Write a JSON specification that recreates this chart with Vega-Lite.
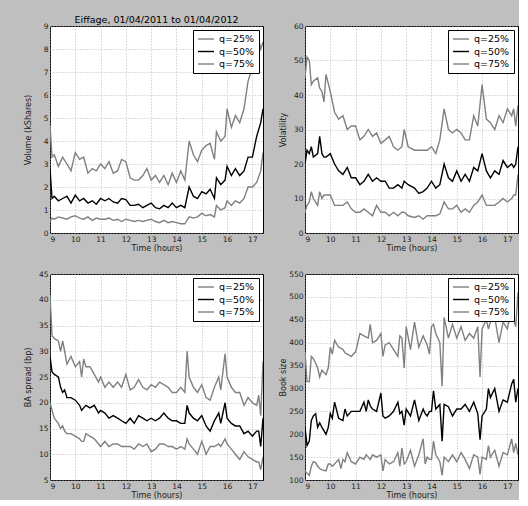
{
  "$schema": "https://vega.github.io/schema/vega-lite/v6.json",
  "background": "#bfbfbf",
  "padding": {"left": 23, "top": 14, "right": 0, "bottom": 0},
  "datasets": {
    "vol": [
      {"t":9,"q=25%":0.5,"q=50%":2.8,"q=75%":4.7},
      {"t":9.08,"q=25%":0.65,"q=50%":1.5,"q=75%":3.3},
      {"t":9.17,"q=25%":0.6,"q=50%":1.6,"q=75%":3.4},
      {"t":9.33,"q=25%":0.7,"q=50%":1.4,"q=75%":2.9},
      {"t":9.5,"q=25%":0.65,"q=50%":1.5,"q=75%":3.3},
      {"t":9.67,"q=25%":0.6,"q=50%":1.6,"q=75%":3.0},
      {"t":9.83,"q=25%":0.7,"q=50%":1.3,"q=75%":2.7},
      {"t":10,"q=25%":0.75,"q=50%":1.65,"q=75%":3.5},
      {"t":10.17,"q=25%":0.65,"q=50%":1.4,"q=75%":3.2},
      {"t":10.33,"q=25%":0.6,"q=50%":1.5,"q=75%":3.3},
      {"t":10.5,"q=25%":0.7,"q=50%":1.3,"q=75%":2.6},
      {"t":10.67,"q=25%":0.55,"q=50%":1.4,"q=75%":2.8},
      {"t":10.83,"q=25%":0.65,"q=50%":1.25,"q=75%":2.7},
      {"t":11,"q=25%":0.6,"q=50%":1.5,"q=75%":3.0},
      {"t":11.17,"q=25%":0.6,"q=50%":1.4,"q=75%":2.8},
      {"t":11.33,"q=25%":0.65,"q=50%":1.5,"q=75%":3.1},
      {"t":11.5,"q=25%":0.55,"q=50%":1.35,"q=75%":2.6},
      {"t":11.67,"q=25%":0.6,"q=50%":1.3,"q=75%":2.7},
      {"t":11.83,"q=25%":0.5,"q=50%":1.5,"q=75%":3.2},
      {"t":12,"q=25%":0.6,"q=50%":1.45,"q=75%":3.1},
      {"t":12.17,"q=25%":0.55,"q=50%":1.2,"q=75%":2.4},
      {"t":12.33,"q=25%":0.5,"q=50%":1.2,"q=75%":2.3},
      {"t":12.5,"q=25%":0.55,"q=50%":1.25,"q=75%":2.3},
      {"t":12.67,"q=25%":0.5,"q=50%":1.1,"q=75%":2.5},
      {"t":12.83,"q=25%":0.55,"q=50%":1.2,"q=75%":2.8},
      {"t":13,"q=25%":0.6,"q=50%":1.3,"q=75%":2.3},
      {"t":13.17,"q=25%":0.5,"q=50%":1.1,"q=75%":2.5},
      {"t":13.33,"q=25%":0.45,"q=50%":1.05,"q=75%":2.2},
      {"t":13.5,"q=25%":0.55,"q=50%":1.2,"q=75%":2.5},
      {"t":13.67,"q=25%":0.45,"q=50%":1.1,"q=75%":2.1},
      {"t":13.83,"q=25%":0.5,"q=50%":1.3,"q=75%":2.6},
      {"t":14,"q=25%":0.45,"q=50%":1.1,"q=75%":2.2},
      {"t":14.17,"q=25%":0.4,"q=50%":1.2,"q=75%":2.7},
      {"t":14.33,"q=25%":0.4,"q=50%":1.1,"q=75%":2.3},
      {"t":14.5,"q=25%":0.7,"q=50%":2.0,"q=75%":4.0},
      {"t":14.67,"q=25%":0.65,"q=50%":1.6,"q=75%":3.4},
      {"t":14.83,"q=25%":0.7,"q=50%":1.5,"q=75%":3.1},
      {"t":15,"q=25%":0.85,"q=50%":1.8,"q=75%":3.6},
      {"t":15.17,"q=25%":0.75,"q=50%":1.7,"q=75%":3.8},
      {"t":15.33,"q=25%":0.8,"q=50%":1.9,"q=75%":3.9},
      {"t":15.5,"q=25%":0.7,"q=50%":1.5,"q=75%":3.2},
      {"t":15.58,"q=25%":1.2,"q=50%":2.4,"q=75%":4.4},
      {"t":15.75,"q=25%":1.0,"q=50%":2.1,"q=75%":4.0},
      {"t":15.92,"q=25%":1.1,"q=50%":2.3,"q=75%":4.2},
      {"t":16,"q=25%":1.4,"q=50%":2.9,"q=75%":5.4},
      {"t":16.17,"q=25%":1.2,"q=50%":2.5,"q=75%":4.6},
      {"t":16.33,"q=25%":1.4,"q=50%":2.8,"q=75%":5.1},
      {"t":16.5,"q=25%":1.3,"q=50%":2.5,"q=75%":4.8},
      {"t":16.67,"q=25%":1.5,"q=50%":2.7,"q=75%":5.4},
      {"t":16.83,"q=25%":2.0,"q=50%":3.3,"q=75%":6.6},
      {"t":17,"q=25%":2.0,"q=50%":3.3,"q=75%":7.2},
      {"t":17.17,"q=25%":2.2,"q=50%":4.2,"q=75%":8.8},
      {"t":17.33,"q=25%":2.7,"q=50%":4.8,"q=75%":8.0},
      {"t":17.42,"q=25%":3.5,"q=50%":5.4,"q=75%":8.3}
    ],
    "volat": [
      {"t":9,"q=25%":6,"q=50%":20,"q=75%":45},
      {"t":9.08,"q=25%":8,"q=50%":24,"q=75%":51},
      {"t":9.17,"q=25%":9,"q=50%":23,"q=75%":50},
      {"t":9.25,"q=25%":12,"q=50%":25,"q=75%":43},
      {"t":9.33,"q=25%":10,"q=50%":22,"q=75%":44},
      {"t":9.5,"q=25%":8,"q=50%":23,"q=75%":45},
      {"t":9.58,"q=25%":12,"q=50%":28,"q=75%":42},
      {"t":9.67,"q=25%":10,"q=50%":23,"q=75%":41},
      {"t":9.75,"q=25%":11,"q=50%":22,"q=75%":38},
      {"t":9.83,"q=25%":11,"q=50%":22,"q=75%":46},
      {"t":10,"q=25%":11,"q=50%":23,"q=75%":41},
      {"t":10.17,"q=25%":8,"q=50%":20,"q=75%":35},
      {"t":10.33,"q=25%":8,"q=50%":18,"q=75%":33},
      {"t":10.5,"q=25%":8,"q=50%":17,"q=75%":34},
      {"t":10.67,"q=25%":9,"q=50%":19,"q=75%":30},
      {"t":10.83,"q=25%":7,"q=50%":16,"q=75%":31},
      {"t":11,"q=25%":6,"q=50%":16,"q=75%":31},
      {"t":11.17,"q=25%":6,"q=50%":14,"q=75%":27},
      {"t":11.33,"q=25%":7,"q=50%":15,"q=75%":28},
      {"t":11.5,"q=25%":6,"q=50%":17,"q=75%":30},
      {"t":11.67,"q=25%":5,"q=50%":15,"q=75%":28},
      {"t":11.83,"q=25%":8,"q=50%":16,"q=75%":29},
      {"t":12,"q=25%":6,"q=50%":15,"q=75%":26},
      {"t":12.17,"q=25%":6,"q=50%":15,"q=75%":27},
      {"t":12.33,"q=25%":5,"q=50%":13,"q=75%":28},
      {"t":12.5,"q=25%":6,"q=50%":13,"q=75%":25},
      {"t":12.67,"q=25%":5,"q=50%":14,"q=75%":24},
      {"t":12.83,"q=25%":6,"q=50%":13,"q=75%":25},
      {"t":12.92,"q=25%":6,"q=50%":15,"q=75%":30},
      {"t":13.08,"q=25%":5,"q=50%":14,"q=75%":25},
      {"t":13.33,"q=25%":4.5,"q=50%":13,"q=75%":24},
      {"t":13.5,"q=25%":5,"q=50%":11.5,"q=75%":24},
      {"t":13.67,"q=25%":4,"q=50%":12,"q=75%":24},
      {"t":13.83,"q=25%":5,"q=50%":13,"q=75%":24},
      {"t":14,"q=25%":5,"q=50%":15,"q=75%":25},
      {"t":14.17,"q=25%":5,"q=50%":13,"q=75%":23},
      {"t":14.33,"q=25%":5.5,"q=50%":14,"q=75%":27},
      {"t":14.5,"q=25%":9,"q=50%":20,"q=75%":36},
      {"t":14.67,"q=25%":7,"q=50%":16,"q=75%":30},
      {"t":14.83,"q=25%":7,"q=50%":15,"q=75%":29},
      {"t":15,"q=25%":8,"q=50%":18,"q=75%":30},
      {"t":15.17,"q=25%":6,"q=50%":15,"q=75%":29},
      {"t":15.33,"q=25%":7,"q=50%":17,"q=75%":27},
      {"t":15.5,"q=25%":6,"q=50%":15,"q=75%":27},
      {"t":15.67,"q=25%":8,"q=50%":19,"q=75%":34},
      {"t":15.83,"q=25%":9,"q=50%":18,"q=75%":31},
      {"t":16,"q=25%":11,"q=50%":23,"q=75%":43},
      {"t":16.17,"q=25%":8,"q=50%":18,"q=75%":33},
      {"t":16.33,"q=25%":8,"q=50%":16,"q=75%":32},
      {"t":16.5,"q=25%":8,"q=50%":18,"q=75%":30},
      {"t":16.67,"q=25%":9,"q=50%":17,"q=75%":34},
      {"t":16.83,"q=25%":10,"q=50%":21,"q=75%":32},
      {"t":17,"q=25%":9,"q=50%":19,"q=75%":36},
      {"t":17.17,"q=25%":10,"q=50%":20,"q=75%":34},
      {"t":17.25,"q=25%":11,"q=50%":19,"q=75%":36},
      {"t":17.33,"q=25%":11,"q=50%":20,"q=75%":31},
      {"t":17.42,"q=25%":17,"q=50%":25,"q=75%":37}
    ],
    "spread": [
      {"t":9,"q=25%":20,"q=50%":29,"q=75%":41},
      {"t":9.08,"q=25%":18.5,"q=50%":26,"q=75%":33},
      {"t":9.17,"q=25%":17,"q=50%":25.5,"q=75%":32.5},
      {"t":9.33,"q=25%":16,"q=50%":25,"q=75%":32},
      {"t":9.42,"q=25%":15,"q=50%":23,"q=75%":30},
      {"t":9.5,"q=25%":15.5,"q=50%":22,"q=75%":32},
      {"t":9.58,"q=25%":14.5,"q=50%":22.5,"q=75%":30},
      {"t":9.67,"q=25%":14,"q=50%":21,"q=75%":27.5},
      {"t":9.83,"q=25%":14,"q=50%":21,"q=75%":29},
      {"t":10,"q=25%":13.5,"q=50%":20.5,"q=75%":27},
      {"t":10.17,"q=25%":13,"q=50%":19.5,"q=75%":28},
      {"t":10.25,"q=25%":12.5,"q=50%":18.5,"q=75%":25},
      {"t":10.33,"q=25%":12.5,"q=50%":19,"q=75%":28.5},
      {"t":10.42,"q=25%":14,"q=50%":19.5,"q=75%":27},
      {"t":10.58,"q=25%":13.5,"q=50%":19,"q=75%":27},
      {"t":10.75,"q=25%":13,"q=50%":19.5,"q=75%":25.5},
      {"t":10.92,"q=25%":12,"q=50%":18,"q=75%":24},
      {"t":11,"q=25%":11.5,"q=50%":18.5,"q=75%":25},
      {"t":11.17,"q=25%":12.5,"q=50%":18,"q=75%":23},
      {"t":11.33,"q=25%":11.5,"q=50%":17,"q=75%":24},
      {"t":11.5,"q=25%":12,"q=50%":17.5,"q=75%":23},
      {"t":11.67,"q=25%":12,"q=50%":17,"q=75%":24},
      {"t":11.83,"q=25%":11.5,"q=50%":16.5,"q=75%":23},
      {"t":12,"q=25%":11.5,"q=50%":16,"q=75%":25.5},
      {"t":12.17,"q=25%":11.5,"q=50%":17,"q=75%":22.5},
      {"t":12.33,"q=25%":11,"q=50%":16,"q=75%":23},
      {"t":12.5,"q=25%":12,"q=50%":17.5,"q=75%":24.5},
      {"t":12.67,"q=25%":11.5,"q=50%":17,"q=75%":23},
      {"t":12.83,"q=25%":12,"q=50%":16.5,"q=75%":22.5},
      {"t":13,"q=25%":10.5,"q=50%":17,"q=75%":23.5},
      {"t":13.17,"q=25%":11,"q=50%":16.5,"q=75%":23},
      {"t":13.33,"q=25%":12,"q=50%":17,"q=75%":24},
      {"t":13.5,"q=25%":12,"q=50%":18,"q=75%":23.5},
      {"t":13.67,"q=25%":11.5,"q=50%":17,"q=75%":23},
      {"t":13.83,"q=25%":11.5,"q=50%":16.5,"q=75%":22},
      {"t":14,"q=25%":11,"q=50%":16.5,"q=75%":22},
      {"t":14.17,"q=25%":11.5,"q=50%":16,"q=75%":23},
      {"t":14.33,"q=25%":11,"q=50%":16,"q=75%":22},
      {"t":14.42,"q=25%":13,"q=50%":19.5,"q=75%":30},
      {"t":14.5,"q=25%":12,"q=50%":18,"q=75%":25},
      {"t":14.67,"q=25%":11,"q=50%":17,"q=75%":23},
      {"t":14.83,"q=25%":10,"q=50%":16.5,"q=75%":22},
      {"t":15,"q=25%":12.5,"q=50%":17.5,"q=75%":23.5},
      {"t":15.17,"q=25%":10,"q=50%":15.5,"q=75%":21},
      {"t":15.33,"q=25%":11.5,"q=50%":14.5,"q=75%":20.5},
      {"t":15.5,"q=25%":11.5,"q=50%":16.5,"q=75%":23},
      {"t":15.67,"q=25%":12,"q=50%":18,"q=75%":25},
      {"t":15.75,"q=25%":11.5,"q=50%":16,"q=75%":22.5},
      {"t":15.92,"q=25%":13,"q=50%":20,"q=75%":29.5},
      {"t":16,"q=25%":12,"q=50%":17,"q=75%":25},
      {"t":16.17,"q=25%":11,"q=50%":16,"q=75%":23},
      {"t":16.33,"q=25%":10,"q=50%":15.5,"q=75%":22},
      {"t":16.5,"q=25%":9,"q=50%":15.5,"q=75%":22},
      {"t":16.67,"q=25%":10.5,"q=50%":14,"q=75%":19.5},
      {"t":16.83,"q=25%":9.5,"q=50%":14.5,"q=75%":21},
      {"t":17,"q=25%":9,"q=50%":13.5,"q=75%":20},
      {"t":17.17,"q=25%":8.5,"q=50%":14.5,"q=75%":19.5},
      {"t":17.25,"q=25%":8.5,"q=50%":14.5,"q=75%":21.5},
      {"t":17.33,"q=25%":7,"q=50%":11.5,"q=75%":17.5},
      {"t":17.42,"q=25%":9.5,"q=50%":17,"q=75%":28}
    ],
    "book": [
      {"t":9,"q=25%":120,"q=50%":215,"q=75%":380},
      {"t":9.08,"q=25%":115,"q=50%":175,"q=75%":315},
      {"t":9.17,"q=25%":110,"q=50%":185,"q=75%":315},
      {"t":9.25,"q=25%":130,"q=50%":230,"q=75%":370},
      {"t":9.33,"q=25%":140,"q=50%":240,"q=75%":365},
      {"t":9.42,"q=25%":138,"q=50%":245,"q=75%":355},
      {"t":9.5,"q=25%":130,"q=50%":215,"q=75%":345},
      {"t":9.58,"q=25%":125,"q=50%":225,"q=75%":325},
      {"t":9.67,"q=25%":122,"q=50%":215,"q=75%":340},
      {"t":9.83,"q=25%":120,"q=50%":200,"q=75%":330},
      {"t":9.92,"q=25%":135,"q=50%":215,"q=75%":345},
      {"t":10,"q=25%":135,"q=50%":245,"q=75%":390},
      {"t":10.08,"q=25%":130,"q=50%":235,"q=75%":375},
      {"t":10.17,"q=25%":135,"q=50%":270,"q=75%":405},
      {"t":10.33,"q=25%":145,"q=50%":235,"q=75%":390},
      {"t":10.42,"q=25%":125,"q=50%":232,"q=75%":388},
      {"t":10.5,"q=25%":145,"q=50%":230,"q=75%":385},
      {"t":10.58,"q=25%":140,"q=50%":255,"q=75%":378},
      {"t":10.67,"q=25%":160,"q=50%":240,"q=75%":375},
      {"t":10.83,"q=25%":140,"q=50%":250,"q=75%":370},
      {"t":11,"q=25%":135,"q=50%":250,"q=75%":380},
      {"t":11.17,"q=25%":150,"q=50%":250,"q=75%":420},
      {"t":11.33,"q=25%":145,"q=50%":270,"q=75%":415},
      {"t":11.42,"q=25%":155,"q=50%":250,"q=75%":412},
      {"t":11.5,"q=25%":150,"q=50%":275,"q=75%":410},
      {"t":11.58,"q=25%":145,"q=50%":262,"q=75%":440},
      {"t":11.67,"q=25%":155,"q=50%":255,"q=75%":400},
      {"t":11.83,"q=25%":150,"q=50%":250,"q=75%":405},
      {"t":12,"q=25%":155,"q=50%":290,"q=75%":420},
      {"t":12.08,"q=25%":120,"q=50%":240,"q=75%":370},
      {"t":12.17,"q=25%":145,"q=50%":235,"q=75%":395},
      {"t":12.33,"q=25%":135,"q=50%":240,"q=75%":400},
      {"t":12.5,"q=25%":140,"q=50%":250,"q=75%":385},
      {"t":12.67,"q=25%":160,"q=50%":270,"q=75%":370},
      {"t":12.75,"q=25%":130,"q=50%":245,"q=75%":415},
      {"t":12.83,"q=25%":170,"q=50%":250,"q=75%":410},
      {"t":12.92,"q=25%":135,"q=50%":220,"q=75%":345},
      {"t":13,"q=25%":140,"q=50%":255,"q=75%":435},
      {"t":13.17,"q=25%":165,"q=50%":240,"q=75%":385},
      {"t":13.33,"q=25%":130,"q=50%":275,"q=75%":445},
      {"t":13.5,"q=25%":155,"q=50%":230,"q=75%":390},
      {"t":13.67,"q=25%":190,"q=50%":255,"q=75%":415},
      {"t":13.75,"q=25%":135,"q=50%":245,"q=75%":405},
      {"t":13.83,"q=25%":150,"q=50%":240,"q=75%":395},
      {"t":13.92,"q=25%":145,"q=50%":250,"q=75%":375},
      {"t":14,"q=25%":145,"q=50%":250,"q=75%":435},
      {"t":14.08,"q=25%":185,"q=50%":295,"q=75%":440},
      {"t":14.17,"q=25%":155,"q=50%":255,"q=75%":420},
      {"t":14.33,"q=25%":140,"q=50%":265,"q=75%":400},
      {"t":14.42,"q=25%":110,"q=50%":185,"q=75%":305},
      {"t":14.5,"q=25%":150,"q=50%":265,"q=75%":455},
      {"t":14.67,"q=25%":140,"q=50%":260,"q=75%":410},
      {"t":14.83,"q=25%":155,"q=50%":240,"q=75%":440},
      {"t":15,"q=25%":140,"q=50%":255,"q=75%":410},
      {"t":15.17,"q=25%":160,"q=50%":255,"q=75%":435},
      {"t":15.33,"q=25%":145,"q=50%":265,"q=75%":405},
      {"t":15.5,"q=25%":125,"q=50%":250,"q=75%":420},
      {"t":15.67,"q=25%":155,"q=50%":270,"q=75%":410},
      {"t":15.83,"q=25%":150,"q=50%":245,"q=75%":435},
      {"t":15.92,"q=25%":112,"q=50%":188,"q=75%":325},
      {"t":16,"q=25%":150,"q=50%":240,"q=75%":430},
      {"t":16.17,"q=25%":145,"q=50%":255,"q=75%":450},
      {"t":16.25,"q=25%":175,"q=50%":300,"q=75%":430},
      {"t":16.33,"q=25%":150,"q=50%":280,"q=75%":445},
      {"t":16.5,"q=25%":165,"q=50%":300,"q=75%":455},
      {"t":16.67,"q=25%":130,"q=50%":250,"q=75%":400},
      {"t":16.83,"q=25%":160,"q=50%":275,"q=75%":445},
      {"t":17,"q=25%":155,"q=50%":270,"q=75%":430},
      {"t":17.17,"q=25%":190,"q=50%":310,"q=75%":480},
      {"t":17.25,"q=25%":160,"q=50%":320,"q=75%":450},
      {"t":17.33,"q=25%":180,"q=50%":270,"q=75%":435},
      {"t":17.42,"q=25%":155,"q=50%":300,"q=75%":510}
    ]
  },
  "columns": 2,
  "spacing": {"row": 16, "column": 14},
  "resolve": {"scale": {"color": "independent"}, "legend": {"color": "independent"}},
  "concat": [
    {
      "title": {"text": "Eiffage, 01/04/2011 to 01/04/2012"},
      "width": 213, "height": 207,
      "data": {"name": "vol"},
      "transform": [{"fold": ["q=25%", "q=50%", "q=75%"], "as": ["q", "v"]}],
      "mark": {"type": "line", "clip": true},
      "encoding": {
        "x": {"field": "t", "type": "quantitative", "scale": {"domain": [9, 17.42], "nice": false, "zero": false}, "axis": {"title": "Time (hours)", "values": [9, 10, 11, 12, 13, 14, 15, 16, 17]}},
        "y": {"field": "v", "type": "quantitative", "scale": {"domain": [0, 9], "nice": false}, "axis": {"title": "Volume (kShares)", "values": [0, 1, 2, 3, 4, 5, 6, 7, 8, 9]}},
        "color": {"field": "q", "type": "nominal", "scale": {"domain": ["q=25%", "q=50%", "q=75%"], "range": ["#808080", "#000000", "#808080"]}, "legend": {"title": null}}
      }
    },
    {
      "width": 213, "height": 207,
      "data": {"name": "volat"},
      "transform": [{"fold": ["q=25%", "q=50%", "q=75%"], "as": ["q", "v"]}],
      "mark": {"type": "line", "clip": true},
      "encoding": {
        "x": {"field": "t", "type": "quantitative", "scale": {"domain": [9, 17.42], "nice": false, "zero": false}, "axis": {"title": "Time (hours)", "values": [9, 10, 11, 12, 13, 14, 15, 16, 17]}},
        "y": {"field": "v", "type": "quantitative", "scale": {"domain": [0, 60], "nice": false}, "axis": {"title": "Volatility", "values": [0, 10, 20, 30, 40, 50, 60]}},
        "color": {"field": "q", "type": "nominal", "scale": {"domain": ["q=25%", "q=50%", "q=75%"], "range": ["#808080", "#000000", "#808080"]}, "legend": {"title": null}}
      }
    },
    {
      "width": 213, "height": 206,
      "data": {"name": "spread"},
      "transform": [{"fold": ["q=25%", "q=50%", "q=75%"], "as": ["q", "v"]}],
      "mark": {"type": "line", "clip": true},
      "encoding": {
        "x": {"field": "t", "type": "quantitative", "scale": {"domain": [9, 17.42], "nice": false, "zero": false}, "axis": {"title": "Time (hours)", "values": [9, 10, 11, 12, 13, 14, 15, 16, 17]}},
        "y": {"field": "v", "type": "quantitative", "scale": {"domain": [5, 45], "nice": false, "zero": false}, "axis": {"title": "BA spread (bp)", "values": [5, 10, 15, 20, 25, 30, 35, 40, 45]}},
        "color": {"field": "q", "type": "nominal", "scale": {"domain": ["q=25%", "q=50%", "q=75%"], "range": ["#808080", "#000000", "#808080"]}, "legend": {"title": null}}
      }
    },
    {
      "width": 213, "height": 206,
      "data": {"name": "book"},
      "transform": [{"fold": ["q=25%", "q=50%", "q=75%"], "as": ["q", "v"]}],
      "mark": {"type": "line", "clip": true},
      "encoding": {
        "x": {"field": "t", "type": "quantitative", "scale": {"domain": [9, 17.42], "nice": false, "zero": false}, "axis": {"title": "Time (hours)", "values": [9, 10, 11, 12, 13, 14, 15, 16, 17]}},
        "y": {"field": "v", "type": "quantitative", "scale": {"domain": [100, 550], "nice": false, "zero": false}, "axis": {"title": "Book size", "values": [100, 150, 200, 250, 300, 350, 400, 450, 500, 550]}},
        "color": {"field": "q", "type": "nominal", "scale": {"domain": ["q=25%", "q=50%", "q=75%"], "range": ["#808080", "#000000", "#808080"]}, "legend": {"title": null}}
      }
    }
  ],
  "config": {
    "font": "DejaVu Sans",
    "view": {"fill": "white", "stroke": "black", "strokeWidth": 1},
    "axis": {"domain": false, "ticks": false, "labelFontSize": 7.5, "labelColor": "#222222", "titleFontSize": 8, "titleFontWeight": "normal", "titleColor": "#222222", "labelPadding": 2, "titlePadding": 2, "gridColor": "#aaaaaa", "gridDash": [1, 2], "gridWidth": 0.8, "gridOpacity": 1},
    "axisY": {"minExtent": 16, "maxExtent": 16, "titlePadding": 2},
    "legend": {"orient": "top-right", "offset": 4, "fillColor": "white", "strokeColor": "black", "padding": 4, "labelFontSize": 9.5, "labelColor": "#000000", "symbolType": "M-1,0H3", "symbolSize": 64, "symbolStrokeWidth": 1.5, "labelOffset": 12, "rowPadding": 2.5},
    "title": {"fontSize": 9.5, "fontWeight": "normal", "color": "#000000", "offset": -2},
    "line": {"strokeWidth": 1.4}
  }
}
